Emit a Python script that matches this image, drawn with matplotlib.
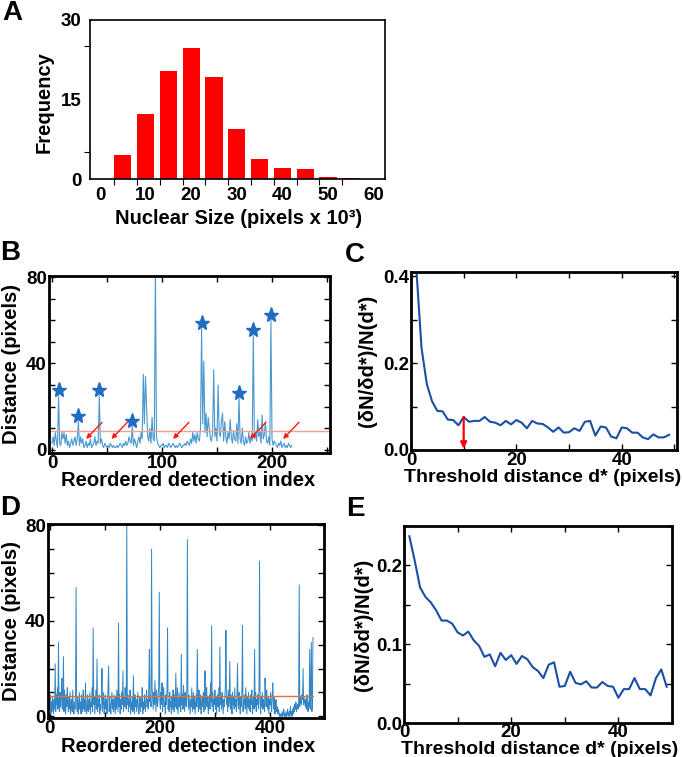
import numpy as np
import matplotlib
matplotlib.use('Agg')
import matplotlib.pyplot as plt

plt.rcParams['font.family'] = ['Liberation Sans', 'DejaVu Sans']
plt.rcParams['font.weight'] = 'bold'

W, H = 683, 757

# --- panel A: nuclear size histogram ---
size_bins = [5, 10, 15, 20, 25, 30, 35, 40, 45, 50, 55]
size_freq = [4.5, 12.3, 20.4, 24.7, 19.2, 9.5, 3.7, 2.1, 1.9, 0.35, 0.2]

# --- panel B: distance vs reordered index (fixed image) ---
dist_b = [
    3, 6, 2, 8, 4, 1, 25, 3, 2, 8, 5, 8, 3, 7, 2, 4, 1, 3, 5, 2,
    4, 6, 2, 5, 13, 2, 6, 3, 5, 1, 2, 4, 1, 3, 2, 5, 1, 2, 3, 6,
    2, 4, 3, 25, 3, 5, 2, 1, 3, 2, 1, 2, 1, 3, 2, 1, 2, 1, 1, 2,
    1, 2, 3, 2, 1, 3, 2, 4, 2, 3, 6, 4, 3, 11, 2, 5, 3, 1, 4, 6,
    3, 8, 5, 35, 12, 34, 20, 6, 4, 10, 3, 15, 5, 4, 84, 6, 3, 2, 1, 2,
    2, 3, 1, 2, 2, 1, 3, 2, 1, 2, 3, 2, 1, 2, 1, 2, 3, 2, 1, 2,
    2, 3, 2, 4, 3, 2, 5, 3, 8, 4, 7, 3, 8, 5, 4, 10, 56, 12, 41, 8,
    17, 6, 15, 10, 5, 4, 8, 37, 6, 10, 4, 30, 8, 6, 13, 17, 4, 13, 6, 3,
    8, 5, 14, 6, 3, 9, 5, 4, 12, 3, 24, 5, 3, 10, 4, 2, 6, 3, 4, 8,
    3, 6, 4, 53, 5, 8, 4, 14, 6, 9, 3, 16, 5, 7, 13, 4, 3, 6, 2, 60,
    5, 2, 4, 3, 2, 1, 3, 2, 4, 1, 2, 3, 1, 2, 1, 3, 2, 1, 2,
]
star_idx = [6, 24, 43, 73, 136, 170, 183, 199]
arrow_x = [31, 54, 110, 180, 210]
threshold = 8.6

# --- panel C / E: (dN/dd*)/N(d*) ---
d_star = list(range(1, 50))
ratio_c = [0.42, 0.235, 0.152, 0.112, 0.090, 0.089, 0.070, 0.069, 0.057, 0.076,
           0.065, 0.067, 0.067, 0.076, 0.065, 0.063, 0.057, 0.067, 0.059, 0.069,
           0.063, 0.050, 0.067, 0.061, 0.060, 0.052, 0.042, 0.052, 0.040, 0.041,
           0.050, 0.044, 0.065, 0.067, 0.033, 0.054, 0.052, 0.031, 0.027, 0.052,
           0.050, 0.040, 0.040, 0.029, 0.025, 0.036, 0.029, 0.029, 0.035]
ratio_e = [0.237, 0.206, 0.172, 0.160, 0.153, 0.143, 0.130, 0.130, 0.126, 0.115,
           0.111, 0.116, 0.105, 0.098, 0.084, 0.087, 0.072, 0.089, 0.080, 0.086,
           0.075, 0.085, 0.081, 0.071, 0.066, 0.057, 0.074, 0.077, 0.046, 0.047,
           0.065, 0.051, 0.049, 0.053, 0.045, 0.045, 0.052, 0.047, 0.046, 0.032,
           0.043, 0.043, 0.057, 0.043, 0.043, 0.035, 0.057, 0.068, 0.046]
chosen_d = 10

# --- panel D: distance vs reordered index (randomised) ---
dist_d = [
    3, 9, 1, 6, 2, 8, 4, 1, 7, 3, 22, 2, 9, 5, 12, 3, 31, 6, 2, 10,
    4, 8, 16, 3, 7, 25, 2, 11, 5, 1, 9, 4, 12, 6, 2, 8, 3, 10, 1, 5,
    7, 2, 11, 4, 1, 6, 3, 9, 54, 5, 2, 8, 1, 4, 10, 3, 6, 1, 9, 2,
    5, 11, 3, 7, 2, 14, 6, 1, 4, 9, 2, 7, 3, 10, 1, 6, 4, 12, 2, 37,
    5, 8, 1, 6, 11, 3, 24, 2, 7, 4, 9, 1, 5, 3, 8, 20, 2, 6, 10, 1,
    4, 9, 3, 7, 1, 5, 12, 21, 2, 8, 4, 1, 6, 10, 3, 7, 2, 9, 5, 1,
    8, 3, 11, 6, 2, 39, 4, 9, 1, 7, 3, 10, 5, 19, 2, 8, 4, 12, 6, 3,
    82, 5, 9, 2, 7, 4, 11, 1, 6, 3, 8, 2, 17, 5, 1, 9, 4, 7, 2, 6,
    10, 3, 1, 5, 8, 2, 7, 4, 12, 1, 6, 3, 9, 5, 2, 8, 11, 4, 7, 3,
    13, 28, 6, 9, 4, 70, 12, 7, 3, 10, 5, 15, 8, 2, 11, 6, 4, 9, 13, 52,
    7, 3, 10, 5, 14, 2, 8, 12, 4, 6, 1, 9, 5, 11, 37, 3, 7, 2, 10, 4,
    6, 1, 8, 3, 11, 5, 2, 9, 4, 18, 7, 3, 12, 1, 6, 10, 4, 8, 2, 26,
    5, 9, 3, 13, 7, 2, 10, 6, 4, 11, 74, 8, 3, 9, 5, 1, 7, 4, 12, 2,
    6, 10, 3, 8, 1, 5, 9, 4, 28, 7, 2, 11, 6, 3, 9, 1, 5, 8, 4, 10,
    2, 7, 19, 3, 6, 12, 4, 8, 1, 5, 9, 3, 14, 6, 38, 4, 10, 2, 7, 5,
    11, 3, 8, 1, 6, 9, 4, 12, 2, 29, 5, 8, 3, 10, 6, 1, 7, 4, 9, 13,
    36, 5, 8, 2, 11, 4, 7, 23, 3, 9, 6, 1, 10, 5, 8, 3, 12, 4, 7, 2,
    9, 22, 5, 3, 10, 6, 1, 8, 4, 11, 38, 2, 7, 5, 9, 3, 12, 6, 1, 8,
    4, 10, 3, 7, 2, 9, 5, 11, 1, 6, 8, 3, 28, 4, 10, 2, 7, 5, 9, 3,
    12, 65, 6, 1, 8, 4, 10, 3, 7, 5, 2, 16, 9, 4, 11, 6, 3, 8, 1, 7,
    5, 10, 4, 2, 9, 14, 6, 3, 8, 1, 5, 7, 2, 4, 1, 3, 2, 0, 1, 0,
    1, 0, 2, 0, 1, 3, 0, 1, 0, 2, 0, 1, 3, 0, 1, 2, 0, 4, 1, 2,
    0, 3, 1, 4, 2, 5, 3, 6, 2, 4, 5, 3, 7, 55, 4, 8, 6, 5, 9, 7,
    20, 5, 8, 6, 4, 7, 3, 9, 5, 2, 6, 4, 28, 3, 8, 31, 2, 5, 33,
]


def rect(left, top, right, bottom):
    return [left / W, 1 - bottom / H, (right - left) / W, (bottom - top) / H]


def ftext(x, y, s, **kw):
    fig.text(x / W, 1 - y / H, s, ha='center', va='center', fontweight='bold', **kw)


def box_style(ax, lw=2.0, size=13.5):
    for sp in ax.spines.values():
        sp.set_linewidth(lw)
    ax.tick_params(direction='in', top=True, right=True, length=4, width=1,
                   labelsize=size, pad=1.5)


fig = plt.figure(figsize=(W / 100, H / 100), dpi=100)

# A
axA = fig.add_axes(rect(90, 20, 385, 179))
width_a = 3.8
axA.bar(size_bins, size_freq, width=width_a, color='#ff0000')
axA.set_xlim(-2.2, 62.5)
axA.set_ylim(0, 30)
axA.set_xticks(range(0, 61, 10))
axA.set_xticks([b - width_a / 2 for b in size_bins], minor=True)
axA.set_yticks([0, 15, 30])
axA.set_yticks([5, 15, 25], minor=True)
axA.tick_params(which='major', length=0, labelsize=13.5, pad=6)
axA.tick_params(which='minor', length=4, width=0.8, direction='out')
for sp in axA.spines.values():
    sp.set_linewidth(1.2)
ftext(239, 218, 'Nuclear Size (pixels x 10³)', fontsize=14.5)
ftext(44, 102, 'Frequency', fontsize=14.5, rotation=90)

# B
axB = fig.add_axes(rect(49, 276, 330, 453))
idx_b = np.arange(len(dist_b))
axB.plot(idx_b, dist_b, color='#4a98d0', lw=0.8)
axB.axhline(threshold, color='#eaa493', lw=1)
star_y = [dist_b[i] + 2.5 for i in star_idx]
axB.plot(star_idx, star_y, ls='none', marker='*', ms=11, color='#1f6cc0')
for ax_ in arrow_x:
    axB.annotate('', xy=(ax_, 5), xytext=(ax_ + 14.5, 12.7),
                 arrowprops=dict(arrowstyle='-|>', color='#ff1a1a', lw=1,
                                 mutation_scale=7, shrinkA=0, shrinkB=0))
axB.set_xlim(-2.7, 252.7)
axB.set_ylim(-1.5, 80.5)
axB.set_xticks(range(0, 251, 50))
axB.set_xticklabels(['0', '', '100', '', '200', ''])
axB.set_yticks(range(0, 81, 10))
axB.set_yticklabels(['0', '', '', '', '40', '', '', '', '80'])
box_style(axB)
ftext(188, 480, 'Reordered detection index', fontsize=14.5)
ftext(12, 364, 'Distance (pixels)', fontsize=14.5, rotation=90)

# C
axC = fig.add_axes(rect(411, 272, 677, 450))
axC.plot(d_star, ratio_c, color='#1a4fa3', lw=1.5)
axC.annotate('', xy=(chosen_d, 0.003), xytext=(chosen_d, ratio_c[chosen_d - 1]),
             arrowprops=dict(arrowstyle='-|>', color='#ff0000', lw=1.6,
                             mutation_scale=9, shrinkA=0, shrinkB=0))
axC.set_xlim(0, 50.5)
axC.set_ylim(0, 0.41)
axC.set_xticks(range(0, 51, 10))
axC.set_xticklabels(['0', '', '20', '', '40', ''])
axC.set_yticks([0, 0.1, 0.2, 0.3, 0.4])
axC.set_yticklabels(['0.0', '', '0.2', '', '0.4'])
box_style(axC)
ftext(543, 477, 'Threshold distance d* (pixels)', fontsize=14)
ftext(368, 361, '(δN/δd*)/N(d*)', fontsize=14.5, rotation=90)

# D
axD = fig.add_axes(rect(48, 524, 324, 718))
idx_d = np.arange(len(dist_d))
axD.plot(idx_d, dist_d, color='#3286c6', lw=0.7)
axD.plot([idx_d[0], idx_d[-1]], [threshold, threshold], color='#d9773a', lw=1)
axD.set_xlim(-3, 498)
axD.set_ylim(-0.7, 80.5)
axD.set_xticks(range(0, 401, 100))
axD.set_xticklabels(['0', '', '200', '', '400'])
axD.set_yticks(range(0, 81, 10))
axD.set_yticklabels(['0', '', '', '', '40', '', '', '', '80'])
box_style(axD)
ftext(188, 746, 'Reordered detection index', fontsize=14.5)
ftext(12, 621, 'Distance (pixels)', fontsize=14.5, rotation=90)

# E
axE = fig.add_axes(rect(404, 526, 672, 723))
axE.plot(d_star, ratio_e, color='#1a4fa3', lw=1.5)
axE.set_xlim(0, 50)
axE.set_ylim(0, 0.25)
axE.set_xticks(range(0, 51, 10))
axE.set_xticklabels(['0', '', '20', '', '40', ''])
axE.set_yticks([0, 0.05, 0.1, 0.15, 0.2, 0.25])
axE.set_yticklabels(['0.0', '', '0.1', '', '0.2', ''])
box_style(axE)
axE.tick_params(axis='x', pad=0.5)
ftext(540, 749, 'Threshold distance d* (pixels)', fontsize=14)
ftext(364, 625, '(δN/δd*)/N(d*)', fontsize=14.5, rotation=90)

# panel letters
for letter, x, y in [('A', 12, 13), ('B', 10, 253), ('C', 355, 255), ('D', 10, 508), ('E', 355, 509)]:
    ftext(x, y, letter, fontsize=20)

fig.savefig('out.png', dpi=100, facecolor='white')
